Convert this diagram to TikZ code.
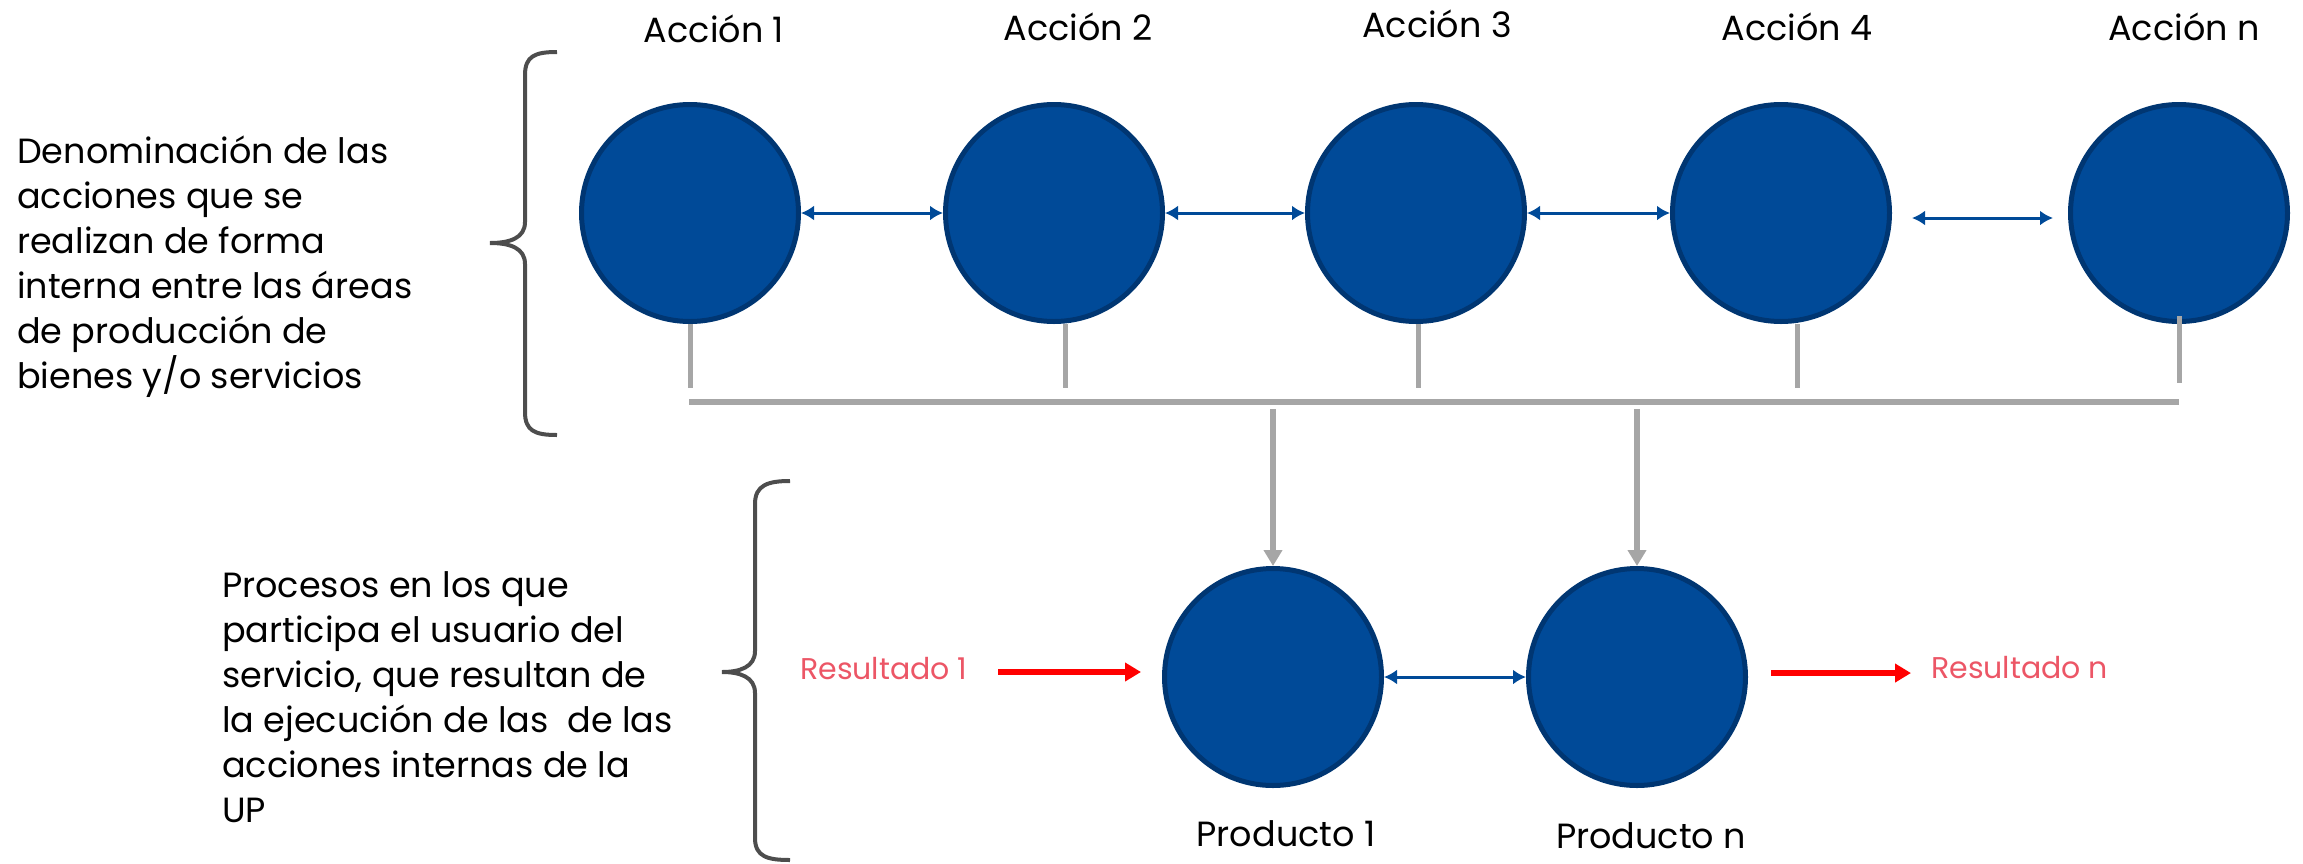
\documentclass[tikz,border=0pt]{standalone}
\usepackage{fontspec}
\setmainfont{Poppins}
\usetikzlibrary{arrows.meta}
\definecolor{cfill}{RGB}{0,74,152}
\definecolor{cline}{RGB}{0,54,114}
\definecolor{gline}{RGB}{166,166,166}
\definecolor{brc}{RGB}{77,77,77}
\definecolor{restext}{RGB}{236,86,102}
\begin{document}
\begin{tikzpicture}[x=1pt,y=-1pt,
  circ/.style={circle, fill=cfill, draw=cline, line width=5pt, minimum size=217pt, inner sep=0pt},
  lbl/.style={font=\fontsize{35}{42}\selectfont, inner sep=0pt, anchor=base},
  para/.style={font=\fontsize{35}{45}\selectfont, align=left, inner sep=0pt, anchor=north west},
  barrow/.style={draw=cfill, line width=3pt, {Latex[length=13pt,width=15pt]}-{Latex[length=13pt,width=15pt]}},
  gstub/.style={draw=gline, line width=5pt},
  gbar/.style={draw=gline, line width=6pt},
  garrow/.style={draw=gline, line width=6pt, -{Triangle[length=16pt,width=18pt]}},
  rarrow/.style={draw=red, line width=6pt, -{Triangle[length=16pt,width=18pt]}},
  bracestyle/.style={draw=brc, line width=4pt},
  res/.style={font=\fontsize{30}{36}\selectfont, text=restext, inner sep=0pt, anchor=base west}
]
\useasboundingbox (0,0) rectangle (2303,863);

% labels on top
\node[lbl] (t1) at (714,42) {Acción 1};
\node[lbl] (t2) at (1078,40) {Acción 2};
\node[lbl] (t3) at (1437,37) {Acción 3};
\node[lbl] (t4) at (1797,40) {Acción 4};
\node[lbl] (tn) at (2184,40) {Acción n};

% top circles
\node[circ] (a1) at (690,213) {};
\node[circ] (a2) at (1054,213) {};
\node[circ] (a3) at (1416,213) {};
\node[circ] (a4) at (1781,213) {};
\node[circ] (an) at (2179,213) {};

\draw[barrow] (a1.east) -- (a2.west);
\draw[barrow] (a2.east) -- (a3.west);
\draw[barrow] (a3.east) -- (a4.west);
\draw[barrow] ([xshift=20pt,yshift=-5pt]a4.east) -- ([xshift=-15pt,yshift=-5pt]an.west);

% stubs and bar
\draw[gstub] (a1.south) -- ++(0,64);
\draw[gstub] ([xshift=11pt]a2.south) -- ++(0,64);
\draw[gstub] ([xshift=2pt]a3.south) -- ++(0,64);
\draw[gstub] ([xshift=16pt]a4.south) -- ++(0,64);
\draw[gstub] ([yshift=8pt]an.south) -- ++(0,67);
\coordinate (barL) at (689,402);
\coordinate (barR) at (2179,402);
\draw[gbar] (barL) -- (barR);

% product circles
\node[circ] (p1) at (1273,677) {};
\node[circ] (pn) at (1637,677) {};
\draw[garrow] ([yshift=-7pt]p1.north |- barL) -- (p1.north);
\draw[garrow] ([yshift=-7pt]pn.north |- barL) -- (pn.north);
\draw[barrow] (p1.east) -- (pn.west);

\node[lbl] (pl1) at (1286,846) {Producto 1};
\node[lbl] (pln) at (1651,848) {Producto n};

% results
\node[res] (r1) at (800,679) {Resultado 1};
\node[res] (rn) at (1931,678) {Resultado n};
\coordinate (r1a) at (998,672);
\draw[rarrow, shorten >=21pt] (r1a) -- (r1a -| p1.west);
\coordinate (rna) at ([yshift=-6pt]rn.west);
\draw[rarrow, shorten <=23pt, shorten >=20pt] (rna -| pn.east) -- (rna);

% paragraphs
\node[para] (txt1) at (17,136) {Denominación de las\\acciones que se\\realizan de forma\\interna entre las áreas\\de producción de\\bienes y/o servicios};
\node[para] (txt2) at (222,571) {Procesos en los que\\participa el usuario del\\servicio, que resultan de\\la ejecución de las\ \ de las\\acciones internas de la\\UP};

% braces
\draw[bracestyle] (557,52) .. controls (535,52) and (525,56) .. (525,75) -- (525,222)
  .. controls (525,238) and (510,243) .. (490,243)
  .. controls (510,243) and (525,248) .. (525,264) -- (525,412)
  .. controls (525,431) and (535,435) .. (557,435);
\draw[bracestyle] (790,481) .. controls (768,481) and (755,485) .. (755,504) -- (755,651)
  .. controls (755,667) and (740,672) .. (722,672)
  .. controls (740,672) and (755,677) .. (755,693) -- (755,838)
  .. controls (755,857) and (768,860) .. (790,860);
\end{tikzpicture}
\end{document}
